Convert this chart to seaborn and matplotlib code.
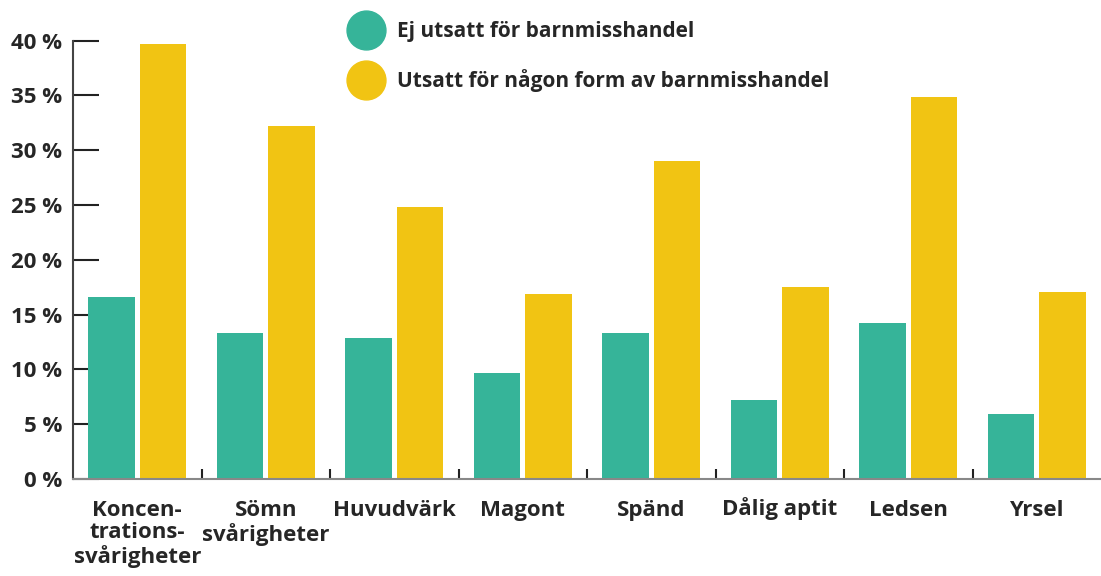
import matplotlib
matplotlib.use("Agg")
import matplotlib.pyplot as plt
import seaborn as sns
import pandas as pd
from matplotlib.lines import Line2D
from matplotlib.ticker import FixedLocator

categories = ["Koncen-\ntrations-\nsvårigheter", "Sömn\nsvårigheter", "Huvudvärk", "Magont",
              "Spänd", "Dålig aptit", "Ledsen", "Yrsel"]
series_names = ["Ej utsatt för barnmisshandel", "Utsatt för någon form av barnmisshandel"]
ej_utsatt = [16.6, 13.3, 12.9, 9.7, 13.3, 7.2, 14.2, 5.9]
utsatt = [39.7, 32.2, 24.8, 16.9, 29.0, 17.5, 34.9, 17.1]
y_ticks = [0, 5, 10, 15, 20, 25, 30, 35, 40]
y_tick_labels = [f"{v} %" for v in y_ticks]
colors = ["#36B499", "#F1C413"]

df = pd.DataFrame({
    "kategori": categories * 2,
    "serie": [series_names[0]] * len(categories) + [series_names[1]] * len(categories),
    "andel": ej_utsatt + utsatt,
})

sns.set_style("white")
plt.rcParams["font.family"] = ["Open Sans", "DejaVu Sans"]
plt.rcParams["font.weight"] = "bold"

fig = plt.figure(figsize=(11.01, 5.76), dpi=100)
ax = fig.add_axes([73 / 1101, 1 - 479 / 576, 1 - 73 / 1101, (479 - 40.7) / 576])

sns.barplot(data=df, x="kategori", y="andel", hue="serie", hue_order=series_names,
            palette=colors, saturation=1, width=0.8, gap=0.1, legend=False, ax=ax,
            linewidth=0, edgecolor="none")

ax.set_xlim(-0.5, len(categories) - 0.5)
ax.set_ylim(0, 40)
ax.set_yticks(y_ticks)
ax.set_yticklabels(y_tick_labels, fontsize=16, fontweight="bold")
ax.set_xticks(range(len(categories)))
ax.set_xticklabels(categories, fontsize=16, fontweight="bold", multialignment="center",
                   linespacing=1.1)
ax.xaxis.set_minor_locator(FixedLocator([i + 0.5 for i in range(len(categories) - 1)]))
ax.set_xlabel("")
ax.set_ylabel("")
ax.set_axisbelow(True)

ax.tick_params(axis="y", direction="in", length=19, width=1.5, color="#222222", pad=8, left=True)
ax.tick_params(axis="x", which="major", length=0, pad=15)
ax.tick_params(axis="x", which="minor", direction="in", length=7, width=1.5, color="#222222", bottom=True)

# keep all first lines on a common top reference (accents should not push a label down)
for lab in ax.get_xticklabels():
    first = lab.get_text().split("\n")[0]
    if any(ch in first for ch in "åÅ"):
        lab.set_verticalalignment("top")
        lab.set_y(lab.get_position()[1])
        lab.set_transform(lab.get_transform() + matplotlib.transforms.ScaledTranslation(0, 3 / 100, fig.dpi_scale_trans))

for s in ["top", "right"]:
    ax.spines[s].set_visible(False)
ax.spines["left"].set_color("#444444")
ax.spines["left"].set_linewidth(1.5)
ax.spines["bottom"].set_color("#888888")
ax.spines["bottom"].set_linewidth(1.5)

handles = [Line2D([], [], marker="o", linestyle="", markersize=28, color=c) for c in colors]
fig.legend(handles, series_names, loc="upper left", bbox_to_anchor=(339 / 1101, 1 - 11 / 576),
           frameon=False, borderpad=0, handlelength=1.6, handletextpad=0.7, labelspacing=1.3,
           prop={"size": 15, "weight": "bold"})

fig.savefig("out.png", dpi=100)
